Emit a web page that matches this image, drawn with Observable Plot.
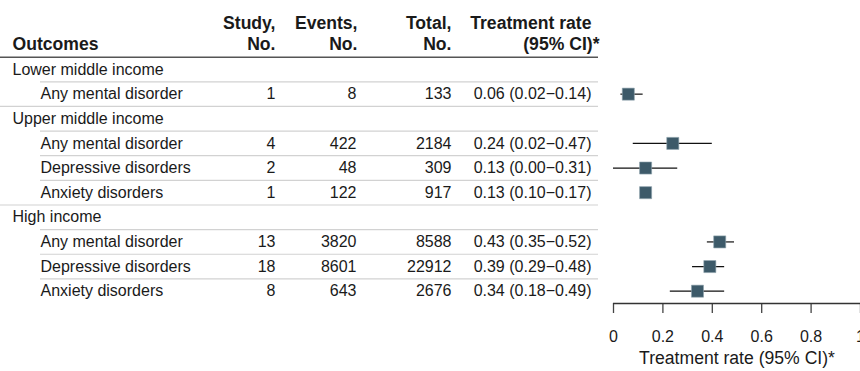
<!DOCTYPE html>
<html>
<head>
<meta charset="utf-8">
<script src="https://cdn.jsdelivr.net/npm/d3@7"></script>
<script src="https://cdn.jsdelivr.net/npm/@observablehq/plot@0.6"></script>
<style>
  html, body { margin: 0; padding: 0; background: #fff; }
  #wrap { position: relative; width: 860px; height: 371px; overflow: hidden; }
  #left { position: absolute; left: 0; top: 0; }
  #right { position: absolute; left: 600px; top: 0; }
</style>
</head>
<body>
<div id="wrap"><div id="left"></div><div id="right"></div></div>
<script>
// ---- data ----
const incomeGroup = ["Lower middle income", "Upper middle income", "Upper middle income", "Upper middle income", "High income", "High income", "High income"];
const outcomes = ["Any mental disorder", "Any mental disorder", "Depressive disorders", "Anxiety disorders", "Any mental disorder", "Depressive disorders", "Anxiety disorders"];
const studies = [1, 4, 2, 1, 13, 18, 8];
const events = [8, 422, 48, 122, 3820, 8601, 643];
const totals = [133, 2184, 309, 917, 8588, 22912, 2676];
const rateLabels = ["0.06 (0.02\u22120.14)", "0.24 (0.02\u22120.47)", "0.13 (0.00\u22120.31)", "0.13 (0.10\u22120.17)", "0.43 (0.35\u22120.52)", "0.39 (0.29\u22120.48)", "0.34 (0.18\u22120.49)"];
// plotted estimates and interval ends as drawn
const rate = [0.06, 0.24, 0.13, 0.13, 0.43, 0.39, 0.34];
const lower = [0.03, 0.08, 0.00, 0.11, 0.38, 0.32, 0.23];
const upper = [0.12, 0.40, 0.26, 0.15, 0.49, 0.45, 0.45];
const headerTop = ["", "Study,", "Events,", "Total,", "Treatment rate"];
const headerBottom = ["Outcomes", "No.", "No.", "No.", "(95% CI)*"];
const xTicks = [0, 0.2, 0.4, 0.6, 0.8, 1];
const axisTitle = "Treatment rate (95% CI)*";

// ---- build table rows ----
const rows = [];
incomeGroup.forEach((g, k) => {
  if (k === 0 || incomeGroup[k - 1] !== g) rows.push({type: "group", label: g});
  rows.push({type: "item", label: outcomes[k], study: studies[k], events: events[k], total: totals[k],
             ci: rateLabels[k], rate: rate[k], lo: lower[k], hi: upper[k]});
});
rows.forEach((r, i) => r.i = i);
const n = rows.length;
const groupRows = rows.filter(r => r.type === "group");
const itemRows = rows.filter(r => r.type === "item");
// separators below every row except the last; full-width if the next row starts a group
const seps = rows.slice(0, -1).map((r, i) => ({y: r.i + 0.5, full: rows[i + 1].type === "group"}));

// ---- layout ----
const H = 371, MT = 56.7, MB = 68;
const yDomain = [n - 0.5, -0.5];
const font = "'Liberation Sans', Arial, Helvetica, sans-serif";
const ink = "#1a1a1a";
const tableRight = 598, indent = 40, groupX = 12;
const colX = [groupX, 275, 356, 451, 591];
const headTopX = [groupX, 275, 357, 451, 591];
const headBotX = [groupX, 275, 357, 451, 599];
const headSize = 17.6;

const cols = [null, "study", "events", "total", "ci"];
const headerTopData = headerTop.map((t, k) => ({t, x: headTopX[k], a: k === 0 ? "start" : "end"})).filter(d => d.t);
const headerBotData = headerBottom.map((t, k) => ({t, x: headBotX[k], a: k === 0 ? "start" : "end"}));

const left = Plot.plot({
  width: 600, height: H,
  marginTop: MT, marginBottom: MB, marginLeft: 0, marginRight: 0,
  x: {type: "identity", axis: null},
  y: {domain: yDomain, axis: null},
  style: {fontSize: "16px", fontFamily: font, color: ink, background: "white"},
  marks: [
    Plot.ruleY(seps, {y: "y", x1: d => d.full ? 0 : indent, x2: tableRight, stroke: "#d2d2d2", strokeWidth: 1.2}),
    Plot.ruleY([yDomain[1]], {x1: 0, x2: tableRight, stroke: "#555", strokeWidth: 1.6}),
    Plot.text(headerTopData.filter(d => d.a === "end"), {x: "x", text: "t", textAnchor: "end", frameAnchor: "top", lineAnchor: "middle", dy: -34, fontWeight: "bold", fontSize: headSize, fill: ink}),
    Plot.text(headerBotData.filter(d => d.a === "start"), {x: "x", text: "t", textAnchor: "start", frameAnchor: "top", lineAnchor: "middle", dy: -12.5, fontWeight: "bold", fontSize: headSize, fill: ink}),
    Plot.text(headerBotData.filter(d => d.a === "end"), {x: "x", text: "t", textAnchor: "end", frameAnchor: "top", lineAnchor: "middle", dy: -12.5, fontWeight: "bold", fontSize: headSize, fill: ink}),
    Plot.text(groupRows, {x: groupX, y: "i", text: "label", textAnchor: "start", fill: ink}),
    Plot.text(itemRows, {x: indent, y: "i", text: "label", textAnchor: "start", fill: ink}),
    ...[1, 2, 3, 4].map(k => Plot.text(itemRows, {x: colX[k], y: "i", text: d => String(d[cols[k]]), textAnchor: "end", fill: ink}))
  ]
});
document.getElementById("left").appendChild(left);

const right = Plot.plot({
  width: 260, height: H,
  marginTop: MT, marginBottom: MB, marginLeft: 13, marginRight: 0,
  x: {domain: [0, 1]},
  y: {domain: yDomain, axis: null},
  style: {fontSize: "16px", fontFamily: font, color: ink, background: "white"},
  marks: [
    Plot.axisX({ticks: xTicks, tickFormat: d => `${d}`, tickSize: 10, tickPadding: 17, label: null, stroke: "#444", strokeWidth: 1.3, fill: ink}),
    Plot.ruleY([yDomain[0]], {stroke: "#333", strokeWidth: 1.5}),
    Plot.ruleY(itemRows, {y: "i", x1: "lo", x2: "hi", stroke: "#111", strokeWidth: 1.2}),
    Plot.dot(itemRows, {x: "rate", y: "i", symbol: "square", r: 6.8, fill: "#3d5a69", stroke: "#8fa3ad", strokeWidth: 0.6}),
    Plot.text([axisTitle], {text: d => d, frameAnchor: "bottom", lineAnchor: "middle", dy: 55, fontSize: headSize, fill: ink})
  ]
});
document.getElementById("right").appendChild(right);
</script>
</body>
</html>
